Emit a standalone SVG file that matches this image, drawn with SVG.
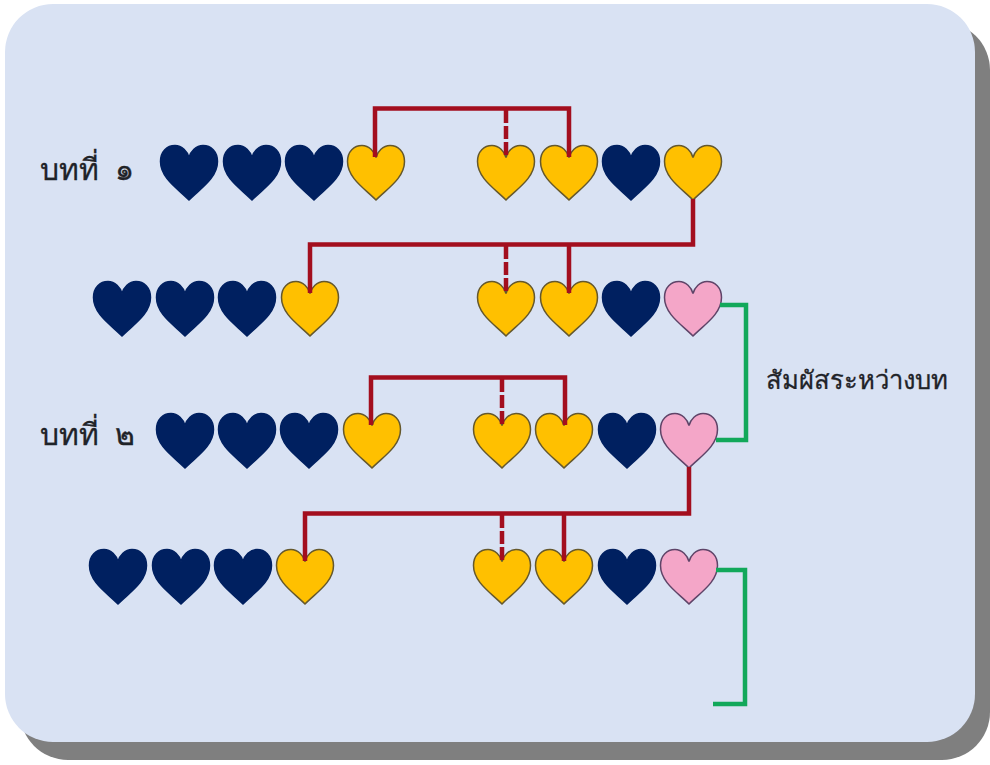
<svg xmlns="http://www.w3.org/2000/svg" width="990" height="765" viewBox="0 0 990 765">
<style>
.h{stroke-width:1.5}
.n{fill:#002060;stroke:#002060}
.y{fill:#ffc000;stroke:#65582c}
.p{fill:#f4a6c8;stroke:#5f4468}
.r{fill:none;stroke:#a30e1e;stroke-width:4.5}
.d{fill:none;stroke:#a30e1e;stroke-width:4.5;stroke-dasharray:13 3}
.g{fill:none;stroke:#12a85a;stroke-width:4.5}
text{font-family:"Noto Sans","DejaVu Sans","Liberation Sans",sans-serif;fill:#1f2328;font-weight:500;stroke:#1f2328;stroke-width:.3}
.t{font-size:30px;word-spacing:8px}
.l{font-size:25.6px}
</style>
<defs>
<path id="heart" d="M0,27.5C-10,17 -28.500,6 -28.500,-11C-28.500,-21 -22,-27 -14,-27C-7,-27 -1.500,-21 0,-15C1.500,-21 7,-27 14,-27C22,-27 28.500,-21 28.500,-11C28.500,6 10,17 0,27.500Z"/>
</defs>
<rect x="20" y="22" width="970" height="738" rx="48" fill="#7f7f7f"/>
<rect x="5" y="4" width="970" height="738" rx="48" fill="#d9e2f3"/>
<g id="row1">
<use href="#heart" class="h n" x="189" y="172.5"/><use href="#heart" class="h n" x="252" y="172.5"/><use href="#heart" class="h n" x="314" y="172.5"/><use href="#heart" class="h y" x="376" y="172.5"/>
<use href="#heart" class="h y" x="506" y="172.5"/><use href="#heart" class="h y" x="569" y="172.5"/><use href="#heart" class="h n" x="631" y="172.5"/><use href="#heart" class="h y" x="693" y="172.5"/>
</g>
<g id="row2">
<use href="#heart" class="h n" x="122" y="308.5"/><use href="#heart" class="h n" x="185" y="308.5"/><use href="#heart" class="h n" x="247" y="308.5"/><use href="#heart" class="h y" x="310" y="308.5"/>
<use href="#heart" class="h y" x="506" y="308.5"/><use href="#heart" class="h y" x="569" y="308.5"/><use href="#heart" class="h n" x="631" y="308.5"/><use href="#heart" class="h p" x="693" y="308.5"/>
</g>
<g id="row3">
<use href="#heart" class="h n" x="185" y="440.5"/><use href="#heart" class="h n" x="247" y="440.5"/><use href="#heart" class="h n" x="309" y="440.5"/><use href="#heart" class="h y" x="372" y="440.5"/>
<use href="#heart" class="h y" x="502" y="440.5"/><use href="#heart" class="h y" x="564" y="440.5"/><use href="#heart" class="h n" x="627" y="440.5"/><use href="#heart" class="h p" x="689" y="440.5"/>
</g>
<g id="row4">
<use href="#heart" class="h n" x="118" y="576.5"/><use href="#heart" class="h n" x="181" y="576.5"/><use href="#heart" class="h n" x="243" y="576.5"/><use href="#heart" class="h y" x="305" y="576.5"/>
<use href="#heart" class="h y" x="502" y="576.5"/><use href="#heart" class="h y" x="564" y="576.5"/><use href="#heart" class="h n" x="627" y="576.5"/><use href="#heart" class="h p" x="689" y="576.5"/>
</g>
<g id="connectors">
<path class="r" d="M375,157V108.500H569V157"/><path class="d" d="M506,110V157"/>
<path class="r" d="M693,199V244.500H310V293M569,244V293"/><path class="d" d="M506,246V293"/>
<path class="r" d="M371,425V377.500H565V425"/><path class="d" d="M502,379V425"/>
<path class="r" d="M689,467V513.500H305V561M564,513V561"/><path class="d" d="M502,515V561"/>
<path class="g" d="M720,305H746V440H716"/>
<path class="g" d="M716,570H745V704H713"/>
</g>
<text class="t" x="40" y="180">บทที่ ๑</text>
<text class="t" x="40" y="445">บทที่ ๒</text>
<text class="l" x="766" y="389">สัมผัสระหว่างบท</text>
</svg>
